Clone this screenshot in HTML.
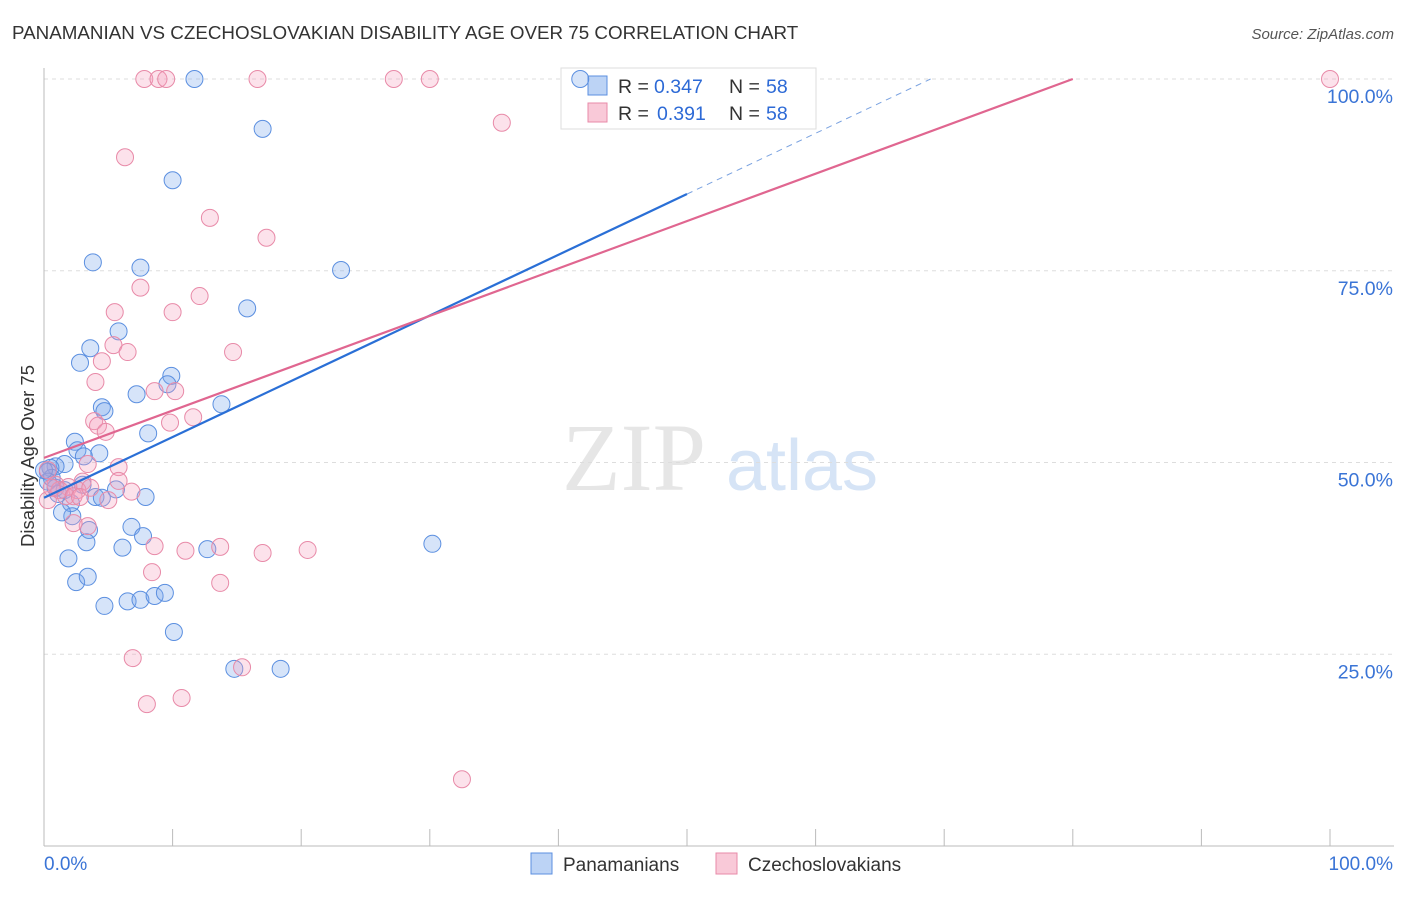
<!DOCTYPE html>
<html><head><meta charset="utf-8"><style>
body{margin:0;background:#fff;font-family:"Liberation Sans",sans-serif}
</style></head><body>
<svg id="c" width="1406" height="892" xmlns="http://www.w3.org/2000/svg">
<text x="12" y="39" font-size="18.8" fill="#333">PANAMANIAN VS CZECHOSLOVAKIAN DISABILITY AGE OVER 75 CORRELATION CHART</text>
<text x="1394" y="39" font-size="15" fill="#555" font-style="italic" text-anchor="end">Source: ZipAtlas.com</text>
<text x="634" y="490" font-size="96" fill="#e6e6e6" font-family="Liberation Serif" text-anchor="middle">ZIP</text>
<text x="802" y="490" font-size="72" fill="#d6e4f6" text-anchor="middle">atlas</text>
<text transform="translate(34,456) rotate(-90)" font-size="18.5" fill="#333" text-anchor="middle">Disability Age Over 75</text>
<g id="grid"></g>
<g>
<rect x="561" y="68" width="255" height="61" fill="#fff" stroke="#ddd"/>
<rect x="588" y="76" width="19" height="19" fill="#bcd3f5" stroke="#5b8fe0"/>
<text x="618" y="93" font-size="19.5" fill="#333">R =</text>
<text x="654" y="93" font-size="19.5" fill="#2d6ad6">0.347</text>
<text x="729" y="93" font-size="19.5" fill="#333">N =</text>
<text x="766" y="93" font-size="19.5" fill="#2d6ad6">58</text>
<rect x="588" y="103" width="19" height="19" fill="#f9c9d8" stroke="#e88aa8"/>
<text x="618" y="120" font-size="19.5" fill="#333">R =</text>
<text x="657" y="120" font-size="19.5" fill="#2d6ad6">0.391</text>
<text x="729" y="120" font-size="19.5" fill="#333">N =</text>
<text x="766" y="120" font-size="19.5" fill="#2d6ad6">58</text>
</g>
<g id="pts"></g><g id="lines"></g>
<g>
<rect x="531" y="853" width="21" height="21" fill="#bcd3f5" stroke="#5b8fe0"/>
<text x="563" y="871" font-size="19" fill="#333">Panamanians</text>
<rect x="716" y="853" width="21" height="21" fill="#f9c9d8" stroke="#e88aa8"/>
<text x="748" y="871" font-size="19" fill="#333">Czechoslovakians</text>
</g>
</svg>
<script>
const blueX=[11.7,41.7,17.0,10.0,3.8,7.5,23.1,15.8,5.8,3.6,2.8,9.9,9.6,7.2,13.8,4.5,4.7,8.1,2.4,2.6,4.3,3.1,1.6,0.9,0.5,0.3,0.6,0.3,0.9,1.6,3.0,4.0,4.5,5.6,7.9,2.1,2.2,1.4,3.5,6.8,7.7,3.3,6.1,12.7,30.2,1.9,2.5,3.4,4.7,6.5,7.5,8.6,9.4,10.1,14.8,18.4,0,1.1];
const blueY=[100,100,93.5,86.8,76.1,75.4,75.1,70.1,67.1,64.9,63.0,61.3,60.2,58.9,57.6,57.2,56.7,53.8,52.7,51.6,51.2,50.8,49.8,49.5,49.3,48.8,48.0,47.5,46.7,46.4,47.1,45.5,45.4,46.5,45.5,44.7,43.0,43.5,41.2,41.6,40.4,39.6,38.9,38.7,39.4,37.5,34.4,35.1,31.3,31.9,32.1,32.6,33.0,27.9,23.1,23.1,49.0,45.9];
const pinkX=[7.8,8.9,9.5,16.6,27.2,30.0,100,35.6,6.3,12.9,17.3,7.5,12.1,10.0,5.5,14.7,5.4,6.5,4.5,4.0,8.6,10.2,11.6,3.9,4.2,4.8,9.8,3.4,5.8,0.3,3.0,0.9,5.8,6.8,2.6,1.9,5.0,0.3,3.4,2.3,8.6,11.0,13.7,17.0,20.5,8.4,13.7,6.9,15.4,8.0,10.7,32.5,1.2,1.7,2.3,0.6,2.8,3.6];
const pinkY=[100,100,100,100,100,100,100,94.3,89.8,81.9,79.3,72.8,71.7,69.6,69.6,64.4,65.3,64.4,63.2,60.5,59.3,59.3,55.9,55.4,54.8,54.0,55.2,49.8,49.4,49.0,47.5,47.1,47.6,46.2,46.4,46.8,45.1,45.1,41.7,42.1,39.1,38.5,39.0,38.2,38.6,35.7,34.3,24.5,23.3,18.5,19.3,8.7,46.4,45.6,45.6,46.7,45.5,46.7];
const yTicks=[100,75,50,25];
const yTickLabels=["100.0%","75.0%","50.0%","25.0%"];
const blueFit=[45.4,0.792]; const pinkFit=[50.6,0.6175];
const NS="http://www.w3.org/2000/svg";
const sx=v=>44+v*12.86, sy=v=>846-v*7.67;
function mk(t,a,p){const e=document.createElementNS(NS,t);for(const k in a)e.setAttribute(k,a[k]);p.appendChild(e);return e;}
const g=document.getElementById('grid');
yTicks.forEach((t,i)=>{
 const l=mk('line',{x1:44,x2:1394,y1:sy(t),y2:sy(t),stroke:'#ddd','stroke-dasharray':'4,4'},g);
 
 
 const tx=mk('text',{x:1393,y:sy(t)+24,'font-size':19.5,fill:'#3a74d6','text-anchor':'end'},g);
 tx.textContent=yTickLabels[i];
 
 
});
mk('line',{x1:44,x2:44,y1:68,y2:846,stroke:'#bbb'},g);
mk('line',{x1:44,x2:1394,y1:846,y2:846,stroke:'#bbb'},g);
for(let i=0;i<=10;i++){const x=sx(i*10);mk('line',{x1:x,x2:x,y1:829,y2:846,stroke:'#bbb'},g);}
let t0=mk('text',{x:44,y:870,'font-size':19,fill:'#3a74d6'},g);t0.textContent='0.0%';


let t1=mk('text',{x:1393,y:870,'font-size':19,fill:'#3a74d6','text-anchor':'end'},g);t1.textContent='100.0%';


const p=document.getElementById('pts');
blueX.forEach((x,i)=>{const c=mk('circle',{cx:sx(x),cy:sy(blueY[i]),r:8.5,fill:'rgba(120,165,235,0.3)',stroke:'#5b8fe0','stroke-width':1},p);
 
 });
pinkX.forEach((x,i)=>{const c=mk('circle',{cx:sx(x),cy:sy(pinkY[i]),r:8.5,fill:'rgba(245,160,190,0.3)',stroke:'#e88aa8','stroke-width':1},p);
 
 });
const L=document.getElementById('lines');
const bx1=(100-blueFit[0])/blueFit[1];
let b1=mk('line',{x1:sx(0),y1:sy(blueFit[0]),x2:sx(50),y2:sy(blueFit[0]+50*blueFit[1]),stroke:'#2a6fd6','stroke-width':2.2},L);


let b2=mk('line',{x1:sx(50),y1:sy(blueFit[0]+50*blueFit[1]),x2:sx(bx1),y2:sy(100),stroke:'#7aa2e0','stroke-width':1,'stroke-dasharray':'6,5'},L);


const px1=(100-pinkFit[0])/pinkFit[1];
let pl=mk('line',{x1:sx(0),y1:sy(pinkFit[0]),x2:sx(px1),y2:sy(100),stroke:'#e06690','stroke-width':2.2},L);


</script>
</body></html>
